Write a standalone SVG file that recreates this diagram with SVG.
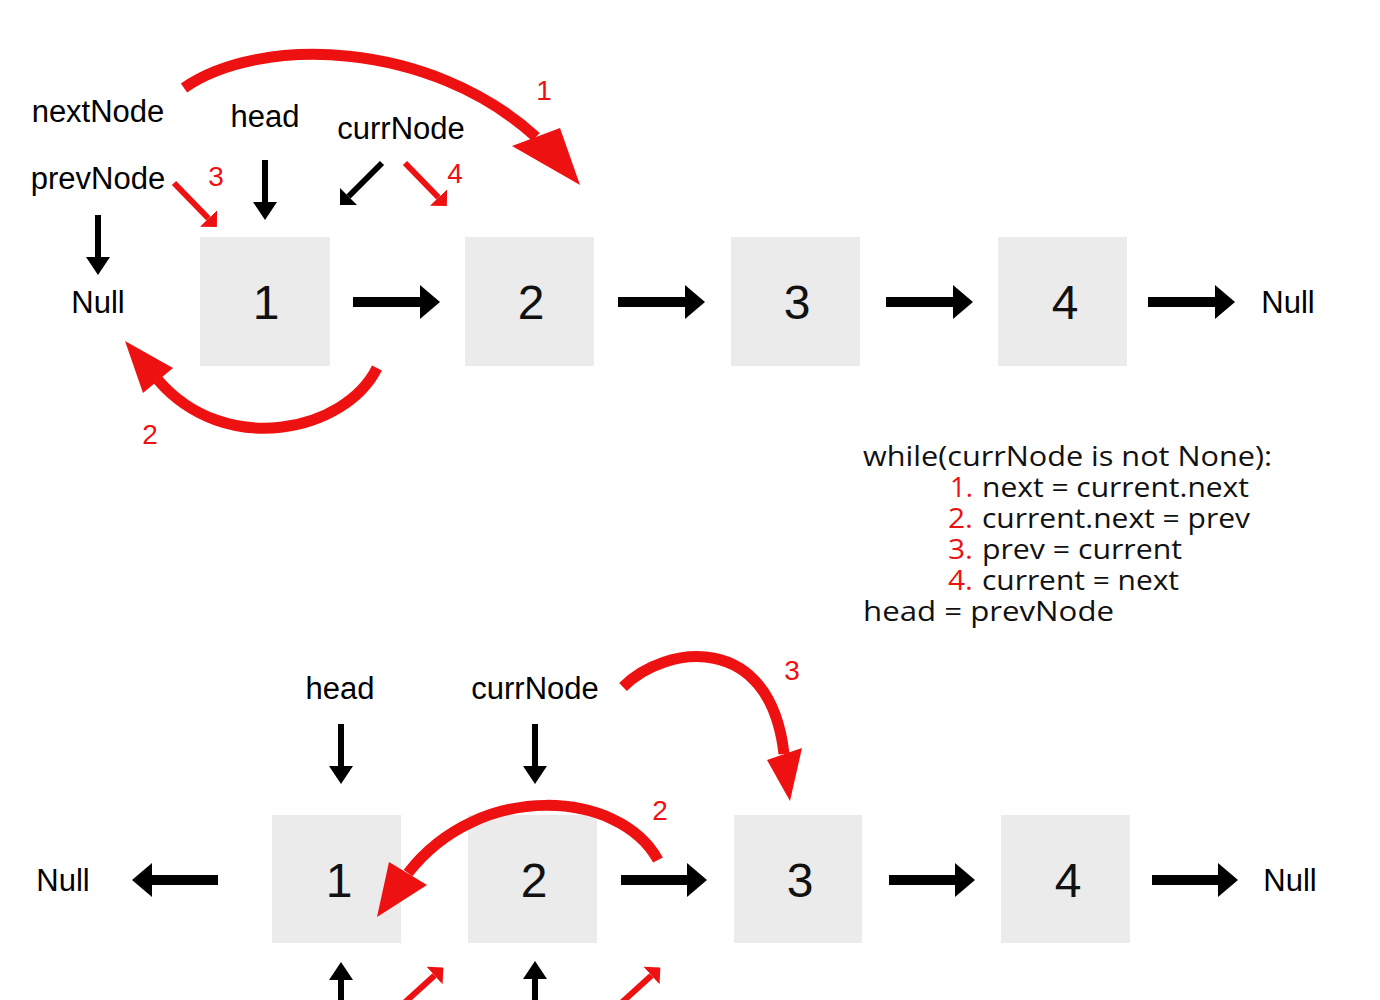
<svg xmlns="http://www.w3.org/2000/svg" width="1380" height="1000" viewBox="0 0 1380 1000">
<style>
.box{fill:#ebebeb}
.num{font-family:"Liberation Sans",Arial,sans-serif;font-size:48px;fill:#111;text-anchor:middle}
.lbl{font-family:"Liberation Sans",Arial,sans-serif;font-size:31px;fill:#000;text-anchor:middle}
.rl{font-family:"Liberation Sans",Arial,sans-serif;font-size:28px;fill:#ee1111;text-anchor:middle}
.code{font-family:"Open Sans",Lato,sans-serif;font-size:28px;fill:#111}
.red{fill:#ee1111}
.bk{stroke:#000;fill:none}
.h{stroke-width:10}
.v{stroke-width:6}
.rd{stroke:#ee1111;fill:none;stroke-width:6}
.arc{stroke:#ee1111;fill:none;stroke-width:11}
.arrhead{fill:#ee1111}
</style>
<defs>
<marker id="mh" markerUnits="userSpaceOnUse" viewBox="0 0 20 34" refX="0" refY="17" markerWidth="20" markerHeight="34" orient="auto"><path d="M0,0 L20,17 L0,34 Z" fill="#000"/></marker>
<marker id="mv" markerUnits="userSpaceOnUse" viewBox="0 0 18 24" refX="0" refY="12" markerWidth="18" markerHeight="24" orient="auto"><path d="M0,0 L18,12 L0,24 Z" fill="#000"/></marker>
<marker id="md" markerUnits="userSpaceOnUse" viewBox="0 0 12 24" refX="0" refY="12" markerWidth="12" markerHeight="24" orient="auto"><path d="M0,0 L12,12 L0,24 Z" fill="#000"/></marker>
<marker id="mdr" markerUnits="userSpaceOnUse" viewBox="0 0 12 24" refX="0" refY="12" markerWidth="12" markerHeight="24" orient="auto"><path d="M0,0 L12,12 L0,24 Z" fill="#ee1111"/></marker>
</defs>
<rect width="1380" height="1000" fill="#fff"/>

<!-- top row nodes -->
<g id="top-node-1"><rect class="box" x="200" y="237" width="130" height="129"/><text class="num" x="266" y="319">1</text></g>
<g id="top-node-2"><rect class="box" x="465" y="237" width="129" height="129"/><text class="num" x="531" y="319">2</text></g>
<g id="top-node-3"><rect class="box" x="731" y="237" width="129" height="129"/><text class="num" x="797" y="319">3</text></g>
<g id="top-node-4"><rect class="box" x="998" y="237" width="129" height="129"/><text class="num" x="1065" y="319">4</text></g>
<g id="top-null-left"><text class="lbl" x="98" y="313">Null</text></g>
<g id="top-null-right"><text class="lbl" x="1288" y="313">Null</text></g>
<g id="top-labels">
<text class="lbl" x="98" y="122">nextNode</text>
<text class="lbl" x="98" y="189">prevNode</text>
<text class="lbl" x="265" y="127">head</text>
<text class="lbl" x="401" y="139">currNode</text>
<text class="rl" x="544" y="100">1</text>
<text class="rl" x="216" y="186">3</text>
<text class="rl" x="455" y="183">4</text>
<text class="rl" x="150" y="444">2</text>
</g>

<!-- bottom row nodes -->
<g id="bot-node-1"><rect class="box" x="272" y="815" width="129" height="128"/><text class="num" x="339" y="897">1</text></g>
<g id="bot-node-2"><rect class="box" x="468" y="815" width="129" height="128"/><text class="num" x="534" y="897">2</text></g>
<g id="bot-node-3"><rect class="box" x="734" y="815" width="128" height="128"/><text class="num" x="800" y="897">3</text></g>
<g id="bot-node-4"><rect class="box" x="1001" y="815" width="129" height="128"/><text class="num" x="1068" y="897">4</text></g>
<g id="bot-null-left"><text class="lbl" x="63" y="891">Null</text></g>
<g id="bot-null-right"><text class="lbl" x="1290" y="891">Null</text></g>
<g id="bot-labels">
<text class="lbl" x="340" y="699">head</text>
<text class="lbl" x="535" y="699">currNode</text>
<text class="rl" x="792" y="680">3</text>
<text class="rl" x="660" y="820">2</text>
</g>

<!-- code -->
<g id="code">
<text class="code" x="863" y="466" textLength="409" lengthAdjust="spacingAndGlyphs">while(currNode is not None):</text>
<text class="code red" x="950" y="497" textLength="23" lengthAdjust="spacingAndGlyphs">1.</text>
<text class="code" x="982" y="497" textLength="267" lengthAdjust="spacingAndGlyphs">next = current.next</text>
<text class="code red" x="948" y="528" textLength="25" lengthAdjust="spacingAndGlyphs">2.</text>
<text class="code" x="982" y="528" textLength="268" lengthAdjust="spacingAndGlyphs">current.next = prev</text>
<text class="code red" x="948" y="559" textLength="25" lengthAdjust="spacingAndGlyphs">3.</text>
<text class="code" x="982" y="559" textLength="200" lengthAdjust="spacingAndGlyphs">prev = current</text>
<text class="code red" x="948" y="590" textLength="25" lengthAdjust="spacingAndGlyphs">4.</text>
<text class="code" x="982" y="590" textLength="197" lengthAdjust="spacingAndGlyphs">current = next</text>
<text class="code" x="863" y="621" textLength="251" lengthAdjust="spacingAndGlyphs">head = prevNode</text>
</g>

<g id="connectors">
<!-- top horizontal -->
<line class="bk h" x1="353" y1="302" x2="420" y2="302" marker-end="url(#mh)"/>
<line class="bk h" x1="618" y1="302" x2="685" y2="302" marker-end="url(#mh)"/>
<line class="bk h" x1="886" y1="302" x2="953" y2="302" marker-end="url(#mh)"/>
<line class="bk h" x1="1148" y1="302" x2="1215" y2="302" marker-end="url(#mh)"/>
<!-- top pointers -->
<line class="bk v" x1="265" y1="160" x2="265" y2="202" marker-end="url(#mv)"/>
<line class="bk v" x1="98" y1="215" x2="98" y2="257" marker-end="url(#mv)"/>
<line class="bk v" x1="382" y1="163" x2="348.5" y2="196.5" marker-end="url(#md)"/>
<line class="rd" x1="174" y1="183" x2="208.5" y2="218.5" marker-end="url(#mdr)"/>
<line class="rd" x1="405" y1="163" x2="438.5" y2="197.5" marker-end="url(#mdr)"/>
<!-- top arcs -->
<path class="arc" d="M184,88 C260,35 430,40 536,137"/>
<polygon class="arrhead" points="580,185 512,146 560,128"/>
<path class="arc" d="M377,368 C345,432 225,458 158,380"/>
<polygon class="arrhead" points="125,341 173,368 143,393"/>

<!-- bottom horizontal -->
<line class="bk h" x1="218" y1="880" x2="152" y2="880" marker-end="url(#mh)"/>
<line class="bk h" x1="621" y1="880" x2="687" y2="880" marker-end="url(#mh)"/>
<line class="bk h" x1="889" y1="880" x2="955" y2="880" marker-end="url(#mh)"/>
<line class="bk h" x1="1152" y1="880" x2="1218" y2="880" marker-end="url(#mh)"/>
<!-- bottom pointers -->
<line class="bk v" x1="341" y1="724" x2="341" y2="766" marker-end="url(#mv)"/>
<line class="bk v" x1="535" y1="724" x2="535" y2="766" marker-end="url(#mv)"/>
<line class="bk v" x1="341" y1="1005" x2="341" y2="980" marker-end="url(#mv)"/>
<line class="bk v" x1="535" y1="1005" x2="535" y2="979" marker-end="url(#mv)"/>
<line class="rd" x1="402" y1="1005" x2="434.5" y2="975.5" marker-end="url(#mdr)"/>
<line class="rd" x1="619" y1="1005" x2="651.5" y2="975.5" marker-end="url(#mdr)"/>
<!-- bottom arcs -->
<path class="arc" d="M623,687 C665,645 770,630 784,754"/>
<polygon class="arrhead" points="790,801 767,760 802,748"/>
<path class="arc" d="M658,860 C620,790 480,780 408,873"/>
<polygon class="arrhead" points="377,917 389,862 427,885"/>
</g>
</svg>
